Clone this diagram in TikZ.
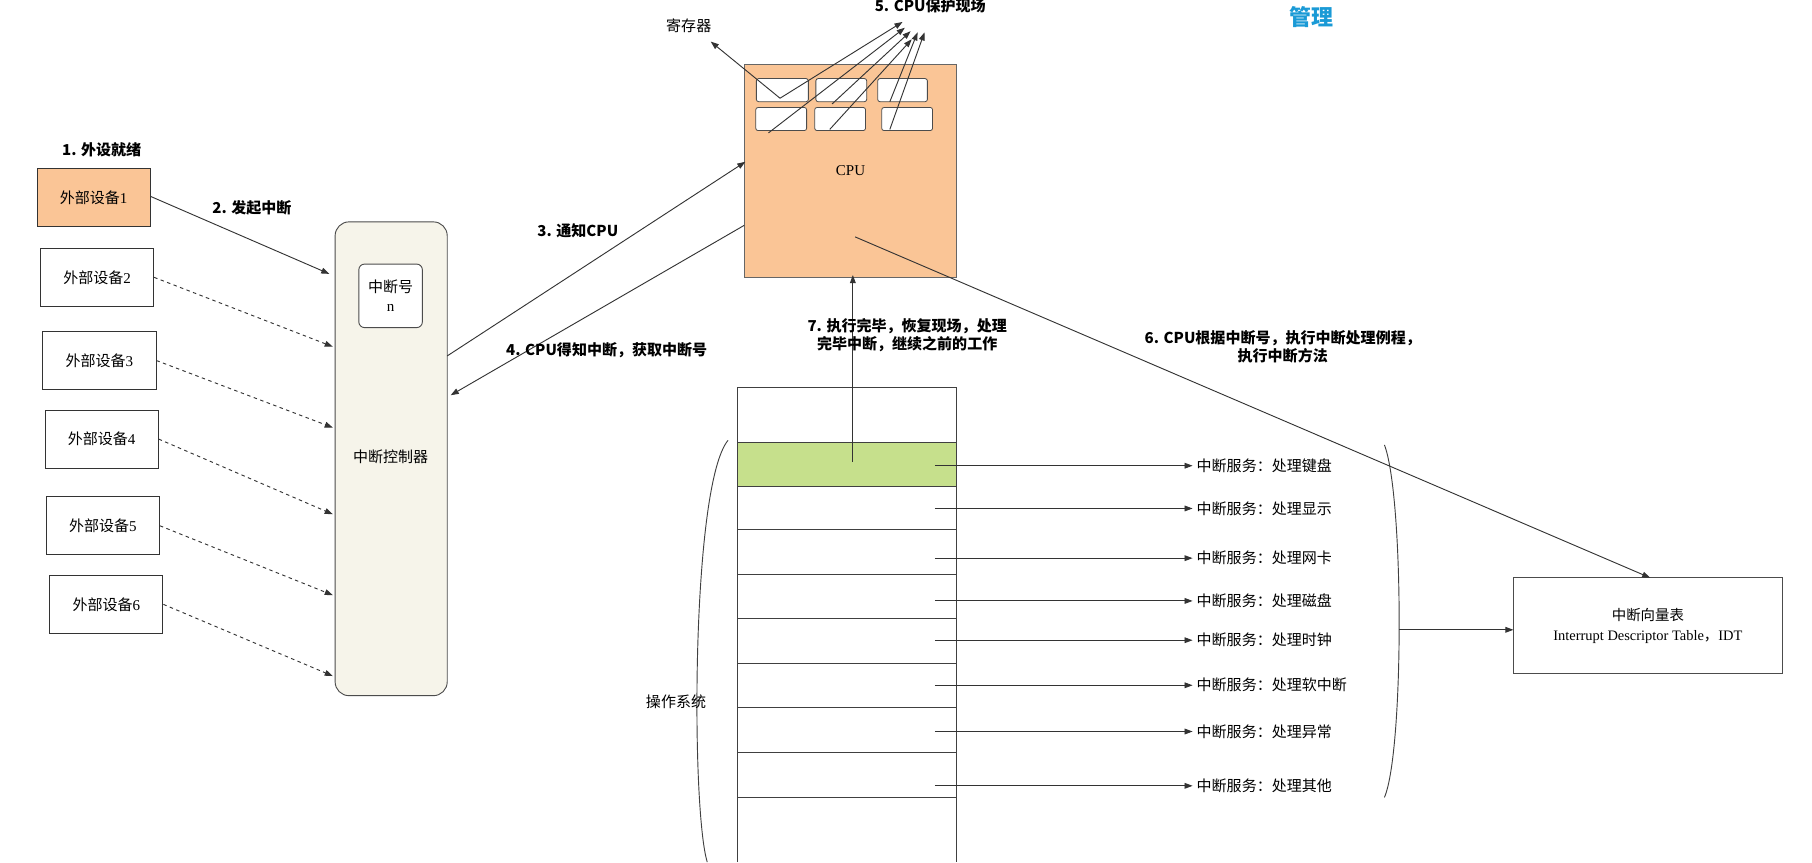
\documentclass[tikz,border=0pt]{standalone}
\usepackage{fontspec}
\setmainfont{Liberation Serif}
\newfontfamily\cjk{Noto Sans CJK SC}
\usetikzlibrary{arrows.meta}
\definecolor{org}{HTML}{FAC596}
\definecolor{beige}{HTML}{F6F4EA}
\definecolor{grn}{HTML}{C6E08C}
\definecolor{blu}{HTML}{1A9AD6}
\begin{document}
\begin{tikzpicture}[x=1pt,y=-1pt,
  dev/.style={draw=black!80,line width=0.8pt,minimum width=98pt,minimum height=50pt,font=\fontsize{13}{15}\selectfont},
  reg/.style={draw=black!70,fill=white,rounded corners=2pt,line width=0.7pt},
  ar/.style={-{Triangle[length=7pt,width=5pt]},black!80,line width=0.8pt},
  da/.style={ar,dashed},
  lbl/.style={font=\cjk\bfseries\fontsize{13}{16}\selectfont,align=center},
  svc/.style={font=\cjk\fontsize{13}{15}\selectfont}]
\useasboundingbox (0,0) rectangle (1568,746);
\fill[white] (0,0) rectangle (1568,746);
% devices
\node[lbl] at (88,130) {1. 外设就绪};
\node[dev,fill=org] (d1) at (81,171) {{\cjk 外部设备}1};
\node[dev] (d2) at (84,240) {{\cjk 外部设备}2};
\node[dev] (d3) at (86,312) {{\cjk 外部设备}3};
\node[dev] (d4) at (88,380) {{\cjk 外部设备}4};
\node[dev] (d5) at (89,455) {{\cjk 外部设备}5};
\node[dev] (d6) at (92,523) {{\cjk 外部设备}6};
% controller
\draw[fill=beige,draw=black!70,line width=0.8pt,rounded corners=12pt] (290,192) rectangle (387,602);
\node[draw=black!70,fill=white,rounded corners=5pt,line width=0.8pt,minimum width=55pt,minimum height=55pt,align=center,font=\fontsize{13}{17}\selectfont] (irq) at (338,256) {{\cjk 中断号}\\n};
\node[svc] (ctl) at (338,395) {中断控制器};
\coordinate (c1) at (285,237);
\foreach \i/\y in {2/300,3/370,4/445,5/515,6/585}{\coordinate (c\i) at (288,\y);}
\draw[ar] (d1.east) ++(0,-1) -- (c1);
\node[lbl] at (218,180) {2. 发起中断};
\foreach \i in {2,...,6}{\draw[da] (d\i.east) -- (c\i);}
% CPU
\draw[fill=org,draw=black!60,line width=0.8pt] (644,56) rectangle (828,240);
\node[font=\fontsize{13}{15}\selectfont] (cpu) at (736,148) {CPU};
\node[reg,minimum width=45pt,minimum height=20pt] (r1) at (677,78) {};
\node[reg,minimum width=44pt,minimum height=20pt] (r2) at (728,78) {};
\node[reg,minimum width=43pt,minimum height=20pt] (r3) at (781,78) {};
\node[reg,minimum width=44pt,minimum height=20pt] (r4) at (676,103) {};
\node[reg,minimum width=44pt,minimum height=20pt] (r5) at (727,103) {};
\node[reg,minimum width=44pt,minimum height=20pt] (r6) at (785,103) {};
\node[svc] (regl) at (596,22) {寄存器};
\node[lbl] (save) at (805,5) {5. CPU保护现场};
\draw[ar] (675,85) -- (615,36);
\draw[ar] (675,85) -- (781,19);
\draw[ar] (665,115) -- (783,24);
\draw[ar] (720,90) -- (788,27);
\draw[ar] (718,112) -- (789,34);
\draw[ar] (770,88) -- (794,28);
\draw[ar] (770,112) -- (800,28);
\node[font=\cjk\bfseries\fontsize{19}{22}\selectfont,text=blu] at (1135,15) {管理};
% controller <-> CPU
\coordinate (cin) at (645,140);
\coordinate (cout) at (644,195);
\draw[ar] (387,308) -- (cin);
\draw[ar] (cout) -- (390,342);
\node[lbl] at (500,200) {3. 通知CPU};
\node[lbl] at (525,303) {4. CPU得知中断，获取中断号};
% OS table
\fill[grn] (638,383) rectangle (828,421);
\draw[black!75,line width=0.8pt] (638,746) -- (638,335) -- (828,335) -- (828,746);
\foreach \y in {383,421,458,497,535,574,612,651,690}{\draw[black!75,line width=0.8pt] (638,\y) -- (828,\y);}
\coordinate (grn) at (738,400);
\coordinate (cpub) at (738,238);
\draw[ar] (grn) -- (cpub);
\node[lbl] at (785,290) {7. 执行完毕，恢复现场，处理\\完毕中断，继续之前的工作};
\draw[black!75,line width=0.8pt] (630,381) .. controls (598,420) and (598,700) .. (612,746);
\node[svc] (os) at (585,607) {操作系统};
% services
\foreach \y/\t [count=\k] in {403/处理键盘,440/处理显示,483/处理网卡,520/处理磁盘,554/处理时钟,593/处理软中断,633/处理异常,680/处理其他}{
  \node[svc,anchor=west] (s\k) at (1032,\y) {中断服务：\t};
  \coordinate (o\k) at (809,\y);
  \draw[ar] (o\k) -- (s\k.west);
}
\draw[black!75,line width=0.8pt] (1198,385) .. controls (1215,430) and (1215,650) .. (1198,690);
\node[draw=black!70,line width=0.8pt,minimum width=232pt,minimum height=83pt,align=center,font=\fontsize{12.5}{17}\selectfont] (idt) at (1426,541.5) {{\cjk 中断向量表}\\Interrupt Descriptor Table{\cjk ，}IDT};
\coordinate (br) at (1211,545);
\draw[ar] (br) -- (idt.west |- br);
\coordinate (cpu6) at (740,205);
\draw[ar] (cpu6) -- (1428,500);
\node[lbl] at (1110,300) {6. CPU根据中断号，执行中断处理例程，\\执行中断方法};
\end{tikzpicture}
\end{document}
